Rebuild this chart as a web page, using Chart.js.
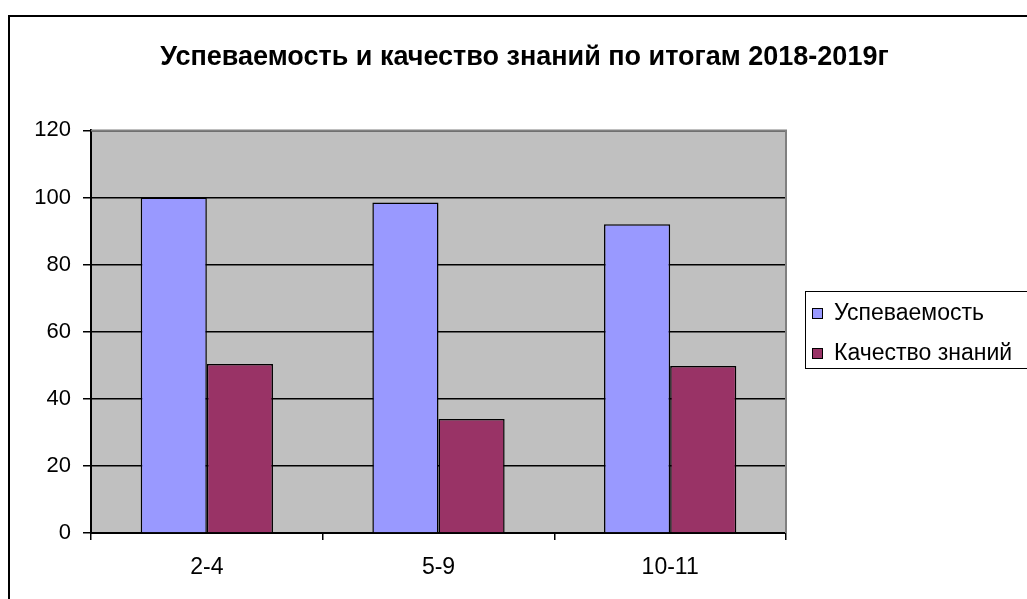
<!DOCTYPE html>
<html>
<head>
<meta charset="utf-8">
<script src="https://cdn.jsdelivr.net/npm/chart.js@4/dist/chart.umd.min.js"></script>
<style>
  html, body { margin: 0; padding: 0; background: #fff; }
  #wrap { width: 1027px; height: 599px; }
</style>
</head>
<body>
<div id="wrap"><canvas id="chart" width="1027" height="599"></canvas></div>
<script>
// data
const grades = ['2-4', '5-9', '10-11'];
const seriesNames = ['Успеваемость', 'Качество знаний'];
const progress = [100, 98.5, 92];
const quality = [50.4, 34, 49.8];
const seriesColors = ['#9999FF', '#993366'];
const yTicks = [0, 20, 40, 60, 80, 100, 120];

const fontFamily = 'Arial, "Liberation Sans", sans-serif';

// frame round the whole chart + grey plot area
const framePlugin = {
  id: 'frame',
  beforeDraw: chart => {
    const { ctx, chartArea } = chart;
    ctx.save();
    ctx.fillStyle = '#fff';
    ctx.fillRect(0, 0, chart.width, chart.height);
    ctx.strokeStyle = '#000';
    ctx.lineWidth = 2;
    ctx.strokeRect(9, 16, chart.width + 20, chart.height + 20);
    ctx.fillStyle = '#C0C0C0';
    ctx.fillRect(chartArea.left, chartArea.top, chartArea.right - chartArea.left, chartArea.bottom - chartArea.top);
    ctx.restore();
  },
  afterDatasetsDraw: chart => {
    const { ctx, chartArea } = chart;
    ctx.save();
    ctx.strokeStyle = '#808080';
    ctx.lineWidth = 2;
    ctx.beginPath();
    ctx.moveTo(chartArea.left, chartArea.top);
    ctx.lineTo(chartArea.right, chartArea.top);
    ctx.lineTo(chartArea.right, chartArea.bottom);
    ctx.stroke();
    ctx.restore();
  }
};

// legend in a box, Excel style
const boxLegend = {
  id: 'boxLegend',
  afterDraw: chart => {
    const { ctx } = chart;
    const x = 805, y = 291, w = 240, h = 77;
    ctx.save();
    ctx.fillStyle = '#fff';
    ctx.fillRect(x, y, w, h);
    ctx.strokeStyle = '#000';
    ctx.lineWidth = 1;
    ctx.strokeRect(x + 0.5, y + 0.5, w, h);
    ctx.font = '23px ' + fontFamily;
    ctx.textBaseline = 'middle';
    chart.data.datasets.forEach((ds, i) => {
      const cy = 313 + i * 40;
      ctx.fillStyle = ds.backgroundColor;
      ctx.fillRect(812, cy - 5, 11, 11);
      ctx.strokeStyle = '#000';
      ctx.strokeRect(812.5, cy - 4.5, 10, 10);
      ctx.fillStyle = '#000';
      ctx.fillText(ds.label, 834, cy + 1);
    });
    ctx.restore();
  }
};

new Chart(document.getElementById('chart'), {
  type: 'bar',
  data: {
    labels: grades,
    datasets: [
      { label: seriesNames[0], data: progress, backgroundColor: seriesColors[0] },
      { label: seriesNames[1], data: quality, backgroundColor: seriesColors[1] }
    ]
  },
  options: {
    responsive: false,
    animation: false,
    layout: { padding: { left: 22, right: 0, top: 0, bottom: 0 } },
    datasets: {
      bar: {
        borderColor: '#000',
        borderWidth: 1.5,
        barPercentage: 1,
        categoryPercentage: 0.571
      }
    },
    plugins: {
      legend: { display: false },
      tooltip: { enabled: false },
      title: {
        display: true,
        text: 'Успеваемость и качество знаний по итогам 2018-2019г',
        color: '#000',
        font: { family: fontFamily, size: 27, weight: 'bold' },
        padding: { top: 41, bottom: 57 }
      }
    },
    scales: {
      x: {
        offset: true,
        border: { color: '#000', width: 2 },
        grid: { offset: true, drawOnChartArea: false, color: '#000', tickLength: 7, lineWidth: 1.5 },
        ticks: { color: '#000', padding: 14, font: { family: fontFamily, size: 23 } },
        afterFit: s => { s.height = 66; }
      },
      y: {
        min: 0,
        max: 120,
        afterBuildTicks: s => { s.ticks = yTicks.map(v => ({ value: v })); },
        border: { color: '#000', width: 2 },
        grid: { color: '#000', lineWidth: 1.5, tickLength: 8 },
        ticks: { color: '#000', padding: 12, font: { family: fontFamily, size: 22 } },
        afterFit: s => { s.width = 69; }
      },
      side: {
        position: 'right',
        display: true,
        grid: { display: false },
        border: { display: false },
        ticks: { display: false },
        afterFit: s => { s.width = 241; }
      }
    }
  },
  plugins: [framePlugin, boxLegend]
});
</script>
</body>
</html>
